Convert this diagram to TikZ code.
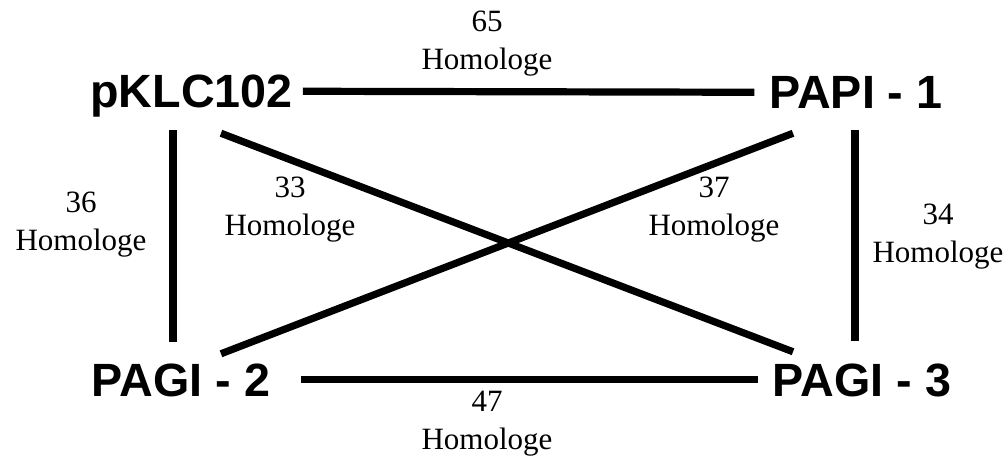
\documentclass[tikz,border=0pt]{standalone}
\usepackage{fontspec}
\setmainfont{Liberation Serif}
\newfontfamily\arialfont{Liberation Sans}
\usetikzlibrary{calc}
\begin{document}
\begin{tikzpicture}[x=0.75pt,y=-0.75pt,
  plasmid/.style={font=\arialfont\bfseries\fontsize{35}{42}\selectfont, inner sep=0pt, anchor=base, text height=25.1pt, text depth=0pt},
  homlabel/.style={font=\fontsize{23.25}{28.5}\selectfont, align=center, inner sep=0pt, anchor=north},
  link/.style={line width=5.4pt, line cap=butt}]
\useasboundingbox (0,0) rectangle (1005,456);
\fill[white] (0,0) rectangle (1005,456);
\node[plasmid] (p) at (191.5,108) {pKLC102};
\node[plasmid] (a) at (856,109) {PAPI - 1};
\node[plasmid] (b) at (181,396) {PAGI - 2};
\node[plasmid] (c) at (862,396) {PAGI - 3};
\draw[link] ($(p.east)+(10,0)$) -- ($(a.west)+(-15,0)$);
\draw[link] ($(b.east)+(31,0)$) -- ($(c.west)+(-15,0)$);
\draw[link] ($(p.south)+(-18.5,22)$) -- ($(b.north)+(-8,-20.5)$);
\draw[link] ($(a.south)+(-1,21)$) -- ($(c.north)+(-7,-21.5)$);
\draw[link] ($(p.south)+(29.5,25)$) -- ($(c.north)+(-69,-10.5)$);
\draw[link] ($(b.north)+(40,-8.5)$) -- ($(a.south)+(-63,24)$);
\node[homlabel] (l65) at (487,11) {65\\Homologe};
\node[homlabel] (l36) at (81,192) {36\\Homologe};
\node[homlabel] (l33) at (290,177) {33\\Homologe};
\node[homlabel] (l37) at (714,177) {37\\Homologe};
\node[homlabel] (l34) at (938,204) {34\\Homologe};
\node[homlabel] (l47) at (487,391) {47\\Homologe};
\end{tikzpicture}
\end{document}
